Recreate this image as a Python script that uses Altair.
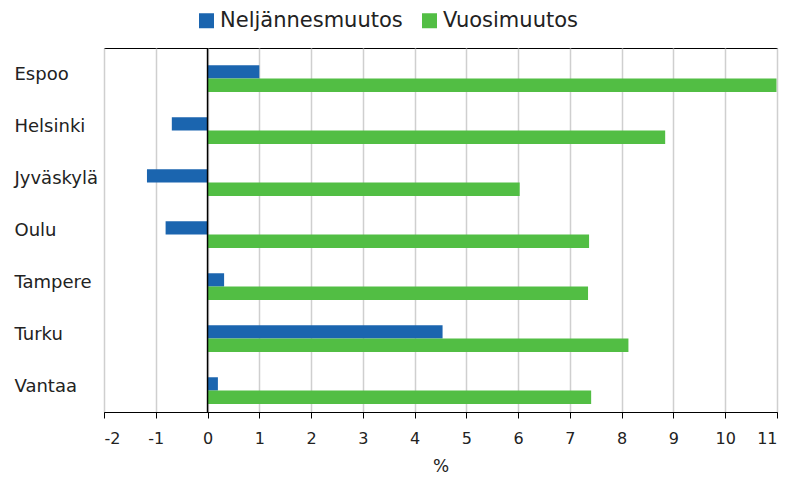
import altair as alt
import pandas as pd

cities = ["Espoo", "Helsinki", "Jyväskylä", "Oulu", "Tampere", "Turku", "Vantaa"]
quarterly = [1.0, -0.69, -1.17, -0.81, 0.32, 4.54, 0.20]
annual = [10.99, 8.84, 6.03, 7.37, 7.35, 8.13, 7.41]
series = ["Neljännesmuutos", "Vuosimuutos"]
colors = ["#1B65AF", "#52BE44"]
tick_values = list(range(-2, 12))

rows = []
for c, q, a in zip(cities, quarterly, annual):
    rows.append({"city": c, "series": series[0], "value": q})
    rows.append({"city": c, "series": series[1], "value": a})
df = pd.DataFrame(rows)

xscale = alt.Scale(domain=[-2, 11], nice=False, zero=False)

bars = alt.Chart(df).mark_bar().encode(
    x=alt.X(
        "value:Q",
        scale=xscale,
        axis=alt.Axis(
            values=tick_values,
            labelExpr="'' + datum.value",
            title="%",
            grid=True,
            gridColor="#cfcfcf",
            gridWidth=1.5,
            tickColor="black",
            domainColor="black",
            tickSize=6,
            labelFontSize=16,
            labelPadding=12,
            labelColor="#222222",
            titleFontSize=17,
            titleFontWeight="normal",
            titleColor="#222222",
            titlePadding=12,
        ),
    ),
    y=alt.Y(
        "city:N",
        sort=cities,
        scale=alt.Scale(paddingInner=0.488, paddingOuter=0.244, align=0.68),
        axis=alt.Axis(
            title=None,
            ticks=False,
            tickSize=0,
            domain=False,
            grid=False,
            labelAlign="left",
            labelPadding=90,
            labelFontSize=18,
            labelOffset=-4,
            labelColor="#222222",
        ),
    ),
    yOffset=alt.YOffset(
        "series:N", sort=series, scale=alt.Scale(paddingInner=0, paddingOuter=0)
    ),
    color=alt.Color(
        "series:N",
        sort=series,
        scale=alt.Scale(domain=series, range=colors),
        legend=alt.Legend(
            title=None,
            orient="none",
            legendX=92,
            legendY=-38,
            direction="horizontal",
            symbolType="square",
            symbolSize=225,
            symbolStrokeWidth=0,
            symbolOpacity=1,
            labelFontSize=21,
            labelOffset=3,
            labelLimit=400,
            labelColor="#222222",
            columnPadding=16,
        ),
    ),
)

zero = alt.Chart(pd.DataFrame({"x": [0]})).mark_rule(
    color="black", strokeWidth=1.5
).encode(x=alt.X("x:Q", scale=xscale))

chart = (
    alt.layer(bars, zero)
    .properties(
        width=673,
        height=364,
        autosize=alt.AutoSizeParams(type="none"),
        padding={"left": 96, "top": 40, "right": 10, "bottom": 64},
    )
    .configure(font="DejaVu Sans")
    .configure_view(stroke="black", strokeWidth=1)
)

chart.save("out.html", embed_options={"renderer": "svg", "actions": False})
